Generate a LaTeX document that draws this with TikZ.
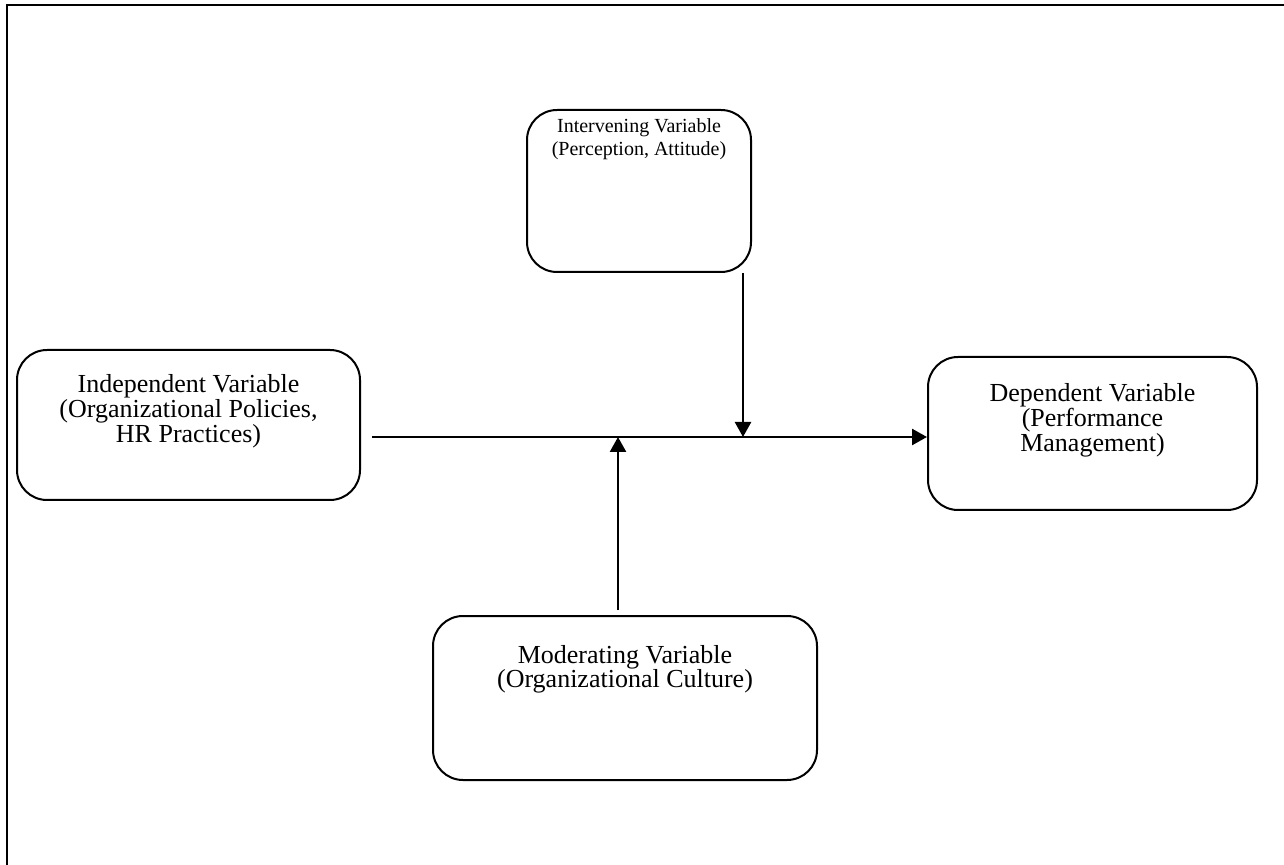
\documentclass[tikz,border=0pt]{standalone}
\usepackage{fontspec}
\setmainfont{Liberation Serif}
\usetikzlibrary{arrows.meta,positioning,calc}

\begin{document}
\begin{tikzpicture}[
  x=0.5pt, y=-0.5pt,
  var/.style={rectangle, rounded corners=15pt, draw, line width=1pt, inner sep=0pt},
  lbl/.style={anchor=north, inner sep=0pt, align=center,
              font=\fontsize{13}{12.5}\selectfont},
  link/.style={line width=1.25pt, -{Triangle[length=7.5pt,width=8pt]}}
]
\useasboundingbox (0,0) rectangle (1284,865);
\draw[line width=1.2pt] (7,865) -- (7,5) -- (1284,5);

% the four variables
\node[var, minimum width=171.5pt, minimum height=75pt] (ind) at (188.5,425) {};
\node[var, minimum width=112pt, minimum height=81pt] (intv) at (639,191) {};
\node[var, minimum width=164.5pt, minimum height=76.5pt] (dep) at (1092.5,433.5) {};
\node[var, minimum width=192pt, minimum height=82pt] (modr) at (625,698) {};

\node[lbl, below=12.5pt of ind.north] (indT) {Independent Variable\\(Organizational Policies,\\HR Practices)};
\node[lbl, below=4.5pt of intv.north, font=\fontsize{10}{11.5}\selectfont] (intvT) {Intervening Variable\\(Perception, Attitude)};
\node[lbl, below=13.5pt of dep.north] (depT) {Dependent Variable\\(Performance\\Management)};
\node[lbl, below=15pt of modr.north, font=\fontsize{13}{12}\selectfont] (modrT) {Moderating Variable\\(Organizational Culture)};

% connectors
\coordinate (cin) at (372,437);
\coordinate (cmed) at (743,437);
\coordinate (cmod) at (618,437);
\draw[link] (cin) -- (cin -| dep.west);
\draw[link] (cmed |- intv.south) -- (cmed);
\draw[link] ($(cmod |- modr.north)+(0,-5)$) -- (cmod);
\end{tikzpicture}
\end{document}
